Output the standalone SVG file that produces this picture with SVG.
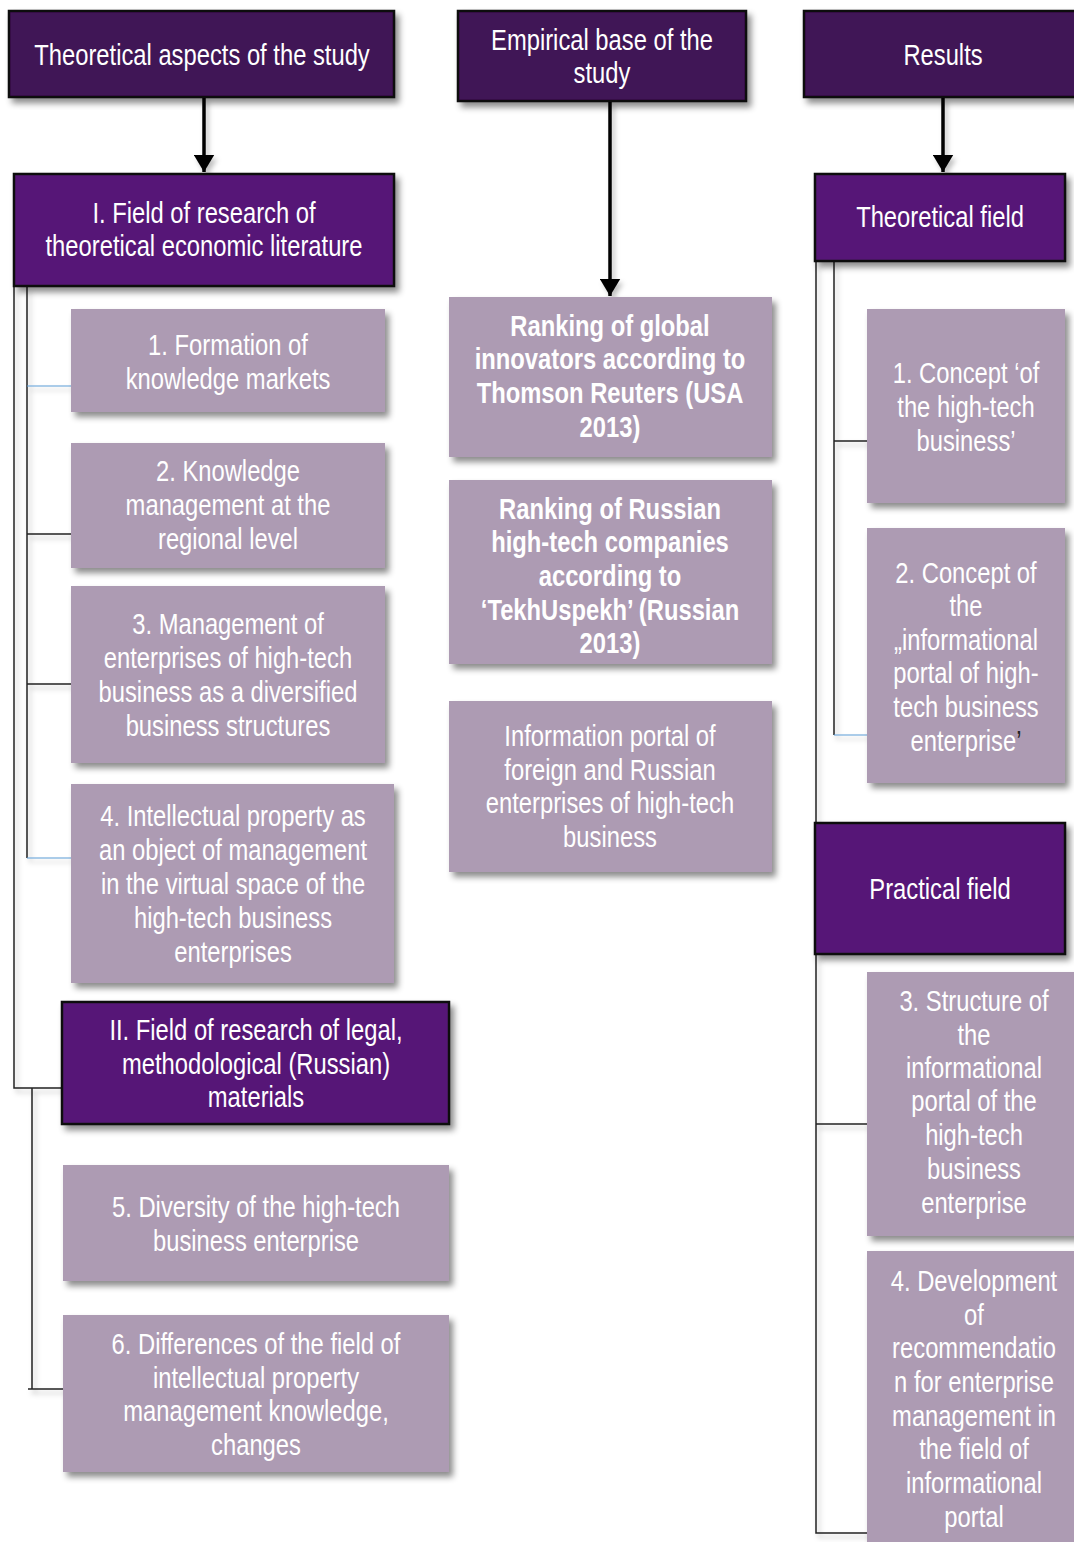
<svg xmlns="http://www.w3.org/2000/svg" width="1074" height="1542" viewBox="0 0 1074 1542">
<style>
text{font-family:"Liberation Sans",Arial,sans-serif;font-size:29px;fill:#ffffff;text-anchor:middle}
.b{font-weight:bold}
.hd{fill:#401256;stroke:#111;stroke-width:2.5}
.l2{fill:#571677;stroke:#111;stroke-width:2.5}
.lt{fill:#ad9bb3}
.ln{fill:none;stroke:#222;stroke-width:1.5}
.blue{fill:none;stroke:#5b9bd5;stroke-width:1.2}
.arr{fill:none;stroke:#000;stroke-width:3.5}
</style>
<defs>
<filter id="sh" x="-10%" y="-10%" width="125%" height="125%">
<feDropShadow dx="4" dy="5" stdDeviation="3" flood-color="#000" flood-opacity="0.45"/>
</filter>
<filter id="lsh" x="-50%" y="-50%" width="200%" height="200%">
<feDropShadow dx="3" dy="4" stdDeviation="2.5" flood-color="#000" flood-opacity="0.25"/>
</filter>
<marker id="ah" markerWidth="6" markerHeight="6" refX="5" refY="3" orient="auto" markerUnits="strokeWidth">
<path d="M0,0 L5,3 L0,6 Z" fill="#000"/>
</marker>
</defs>

<g id="connectors" filter="url(#lsh)">
<line class="arr" x1="204" y1="98" x2="204" y2="172" marker-end="url(#ah)"/>
<line class="arr" x1="610" y1="102" x2="610" y2="296" marker-end="url(#ah)"/>
<line class="arr" x1="943" y1="98" x2="943" y2="172" marker-end="url(#ah)"/>
<polyline class="ln" points="14,287 14,1088 63,1088"/>
<polyline class="ln" points="27,287 27,858"/>
<line class="blue" x1="27" y1="386" x2="71" y2="386"/>
<line class="ln" x1="27" y1="534" x2="71" y2="534"/>
<line class="ln" x1="27" y1="684" x2="71" y2="684"/>
<line class="blue" x1="27" y1="858" x2="71" y2="858"/>
<polyline class="ln" points="32,1088 32,1389"/>
<line class="ln" x1="28" y1="1389" x2="63" y2="1389"/>
<polyline class="ln" points="816,262 816,1533 867,1533"/>
<line class="ln" x1="816" y1="1124" x2="867" y2="1124"/>
<polyline class="ln" points="834,262 834,735"/>
<line class="ln" x1="834" y1="441" x2="867" y2="441"/>
<line class="blue" x1="834" y1="735" x2="867" y2="735"/>
</g>

<g id="h1"><rect class="hd" x="9" y="11" width="385" height="86" filter="url(#sh)"/><g transform="translate(202 0) scale(0.82 1)"><text x="0" y="65">Theoretical aspects of the study</text></g></g>
<g id="h2"><rect class="hd" x="458" y="11" width="288" height="90" filter="url(#sh)"/><g transform="translate(602 0) scale(0.82 1)"><text x="0" y="50">Empirical base of the</text><text x="0" y="83">study</text></g></g>
<g id="h3"><rect class="hd" x="804" y="11" width="280" height="86" filter="url(#sh)"/><g transform="translate(943 0) scale(0.82 1)"><text x="0" y="65">Results</text></g></g>

<g id="field1"><rect class="l2" x="14" y="174" width="380" height="112" filter="url(#sh)"/><g transform="translate(204 0) scale(0.82 1)"><text x="0" y="223">I. Field of research of</text><text x="0" y="256">theoretical economic literature</text></g></g>
<g id="tfield"><rect class="l2" x="815" y="174" width="250" height="87" filter="url(#sh)"/><g transform="translate(940 0) scale(0.82 1)"><text x="0" y="227">Theoretical field</text></g></g>
<g id="pfield"><rect class="l2" x="815" y="823" width="250" height="131" filter="url(#sh)"/><g transform="translate(940 0) scale(0.82 1)"><text x="0" y="899">Practical field</text></g></g>
<g id="field2"><rect class="l2" x="62" y="1002" width="387" height="122" filter="url(#sh)"/><g transform="translate(256 0) scale(0.82 1)"><text x="0" y="1040">II. Field of research of legal,</text><text x="0" y="1074">methodological (Russian)</text><text x="0" y="1107">materials</text></g></g>

<g id="n1"><rect class="lt" x="71" y="309" width="314" height="103" filter="url(#sh)"/><g transform="translate(228 0) scale(0.82 1)"><text x="0" y="355">1. Formation of</text><text x="0" y="389">knowledge markets</text></g></g>
<g id="n2"><rect class="lt" x="71" y="443" width="314" height="125" filter="url(#sh)"/><g transform="translate(228 0) scale(0.82 1)"><text x="0" y="481">2. Knowledge</text><text x="0" y="515">management at the</text><text x="0" y="549">regional level</text></g></g>
<g id="n3"><rect class="lt" x="71" y="586" width="314" height="177" filter="url(#sh)"/><g transform="translate(228 0) scale(0.82 1)"><text x="0" y="634">3. Management of</text><text x="0" y="668">enterprises of high-tech</text><text x="0" y="702">business as a diversified</text><text x="0" y="736">business structures</text></g></g>
<g id="n4"><rect class="lt" x="71" y="784" width="323" height="199" filter="url(#sh)"/><g transform="translate(233 0) scale(0.82 1)"><text x="0" y="826">4. Intellectual property as</text><text x="0" y="860">an object of management</text><text x="0" y="894">in the virtual space of the</text><text x="0" y="928">high-tech business</text><text x="0" y="962">enterprises</text></g></g>
<g id="n5"><rect class="lt" x="63" y="1165" width="386" height="116" filter="url(#sh)"/><g transform="translate(256 0) scale(0.82 1)"><text x="0" y="1217">5. Diversity of the high-tech</text><text x="0" y="1251">business enterprise</text></g></g>
<g id="n6"><rect class="lt" x="63" y="1315" width="386" height="157" filter="url(#sh)"/><g transform="translate(256 0) scale(0.82 1)"><text x="0" y="1354">6. Differences of the field of</text><text x="0" y="1388">intellectual property</text><text x="0" y="1421">management knowledge,</text><text x="0" y="1455">changes</text></g></g>

<g id="r1"><rect class="lt" x="449" y="297" width="323" height="160" filter="url(#sh)"/><g transform="translate(610 0) scale(0.82 1)"><text class="b" x="0" y="336">Ranking of global</text><text class="b" x="0" y="369">innovators according to</text><text class="b" x="0" y="403">Thomson Reuters (USA</text><text class="b" x="0" y="437">2013)</text></g></g>
<g id="r2"><rect class="lt" x="449" y="480" width="323" height="184" filter="url(#sh)"/><g transform="translate(610 0) scale(0.82 1)"><text class="b" x="0" y="519">Ranking of Russian</text><text class="b" x="0" y="552">high-tech companies</text><text class="b" x="0" y="586">according to</text><text class="b" x="0" y="620">‘TekhUspekh’ (Russian</text><text class="b" x="0" y="653">2013)</text></g></g>
<g id="r3"><rect class="lt" x="449" y="701" width="323" height="171" filter="url(#sh)"/><g transform="translate(610 0) scale(0.82 1)"><text x="0" y="746">Information portal of</text><text x="0" y="780">foreign and Russian</text><text x="0" y="813">enterprises of high-tech</text><text x="0" y="847">business</text></g></g>

<g id="c1"><rect class="lt" x="867" y="309" width="198" height="194" filter="url(#sh)"/><g transform="translate(966 0) scale(0.82 1)"><text x="0" y="383">1. Concept ‘of</text><text x="0" y="417">the high-tech</text><text x="0" y="451">business’</text></g></g>
<g id="c2"><rect class="lt" x="867" y="528" width="198" height="255" filter="url(#sh)"/><g transform="translate(966 0) scale(0.82 1)"><text x="0" y="583">2. Concept of</text><text x="0" y="616">the</text><text x="0" y="650">„informational</text><text x="0" y="683">portal of high-</text><text x="0" y="717">tech business</text><text x="0" y="751">enterprise<tspan fill="#222">’</tspan></text></g></g>
<g id="c3"><rect class="lt" x="867" y="972" width="215" height="264" filter="url(#sh)"/><g transform="translate(974 0) scale(0.82 1)"><text x="0" y="1011">3. Structure of</text><text x="0" y="1045">the</text><text x="0" y="1078">informational</text><text x="0" y="1111">portal of the</text><text x="0" y="1145">high-tech</text><text x="0" y="1179">business</text><text x="0" y="1213">enterprise</text></g></g>
<g id="c4"><rect class="lt" x="867" y="1251" width="215" height="300" filter="url(#sh)"/><g transform="translate(974 0) scale(0.82 1)"><text x="0" y="1291">4. Development</text><text x="0" y="1325">of</text><text x="0" y="1358">recommendatio</text><text x="0" y="1392">n for enterprise</text><text x="0" y="1426">management in</text><text x="0" y="1459">the field of</text><text x="0" y="1493">informational</text><text x="0" y="1527">portal</text></g></g>
</svg>
